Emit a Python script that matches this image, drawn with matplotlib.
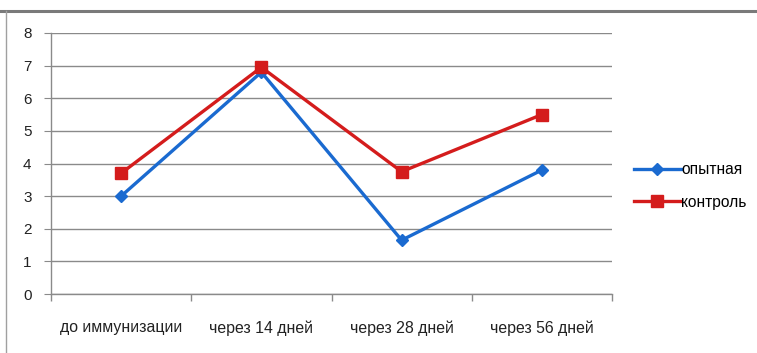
import matplotlib
matplotlib.use("Agg")
import matplotlib.pyplot as plt
from matplotlib.lines import Line2D

categories = ["до иммунизации", "через 14 дней", "через 28 дней", "через 56 дней"]
experimental = [3.0, 6.8, 1.65, 3.8]
control = [3.7, 6.95, 3.75, 5.5]
series_names = ["опытная", "контроль"]

plt.rcParams["font.family"] = ["Liberation Sans", "DejaVu Sans"]

W, H = 757, 353
fig = plt.figure(figsize=(W / 100, H / 100), dpi=100)
ax = fig.add_axes([51 / W, (H - 294) / H, (612 - 51) / W, (294 - 33) / H])

x = range(len(categories))
ax.plot(x, experimental, color="#1a6ad0", lw=2.4, marker="D", ms=6.5,
        label=series_names[0], zorder=3)
ax.plot(x, control, color="#d41c1c", lw=2.4, marker="s", ms=9,
        label=series_names[1], zorder=4)

ax.set_xlim(-0.5, len(categories) - 0.5)
ax.set_ylim(0, 8)
ax.set_yticks(range(0, 9))
ax.grid(axis="y", color="#8a8a8a", lw=1.0)
ax.set_axisbelow(True)

ax.set_xticks(list(x))
ax.set_xticklabels(categories, fontsize=11.4, color="#222222")
ax.tick_params(axis="x", length=0, pad=19)
ax.set_xticks([i - 0.5 for i in range(len(categories) + 1)], minor=True)
ax.tick_params(axis="x", which="minor", length=5, color="#8a8a8a", width=1)
ax.tick_params(axis="y", length=5, color="#8a8a8a", labelsize=11,
               labelcolor="#222222", pad=9)

for side in ("top", "right"):
    ax.spines[side].set_visible(False)
for side in ("left", "bottom"):
    ax.spines[side].set_color("#8a8a8a")
    ax.spines[side].set_linewidth(1.0)

ax.legend(loc="center left", bbox_to_anchor=(620 / W, (H - 186) / H),
          bbox_transform=fig.transFigure, frameon=False, fontsize=11.2,
          handlelength=3.0, handletextpad=0.05, labelspacing=1.1)

# chart frame: top rule and left edge
fig.add_artist(Line2D([0, 1], [(H - 10.5) / H] * 2, color="#7a7a7a", lw=2.2,
                      transform=fig.transFigure))
fig.add_artist(Line2D([6 / W] * 2, [0, (H - 11) / H], color="#a0a0a0", lw=1.0,
                      transform=fig.transFigure))

fig.savefig("out.png", dpi=100)
